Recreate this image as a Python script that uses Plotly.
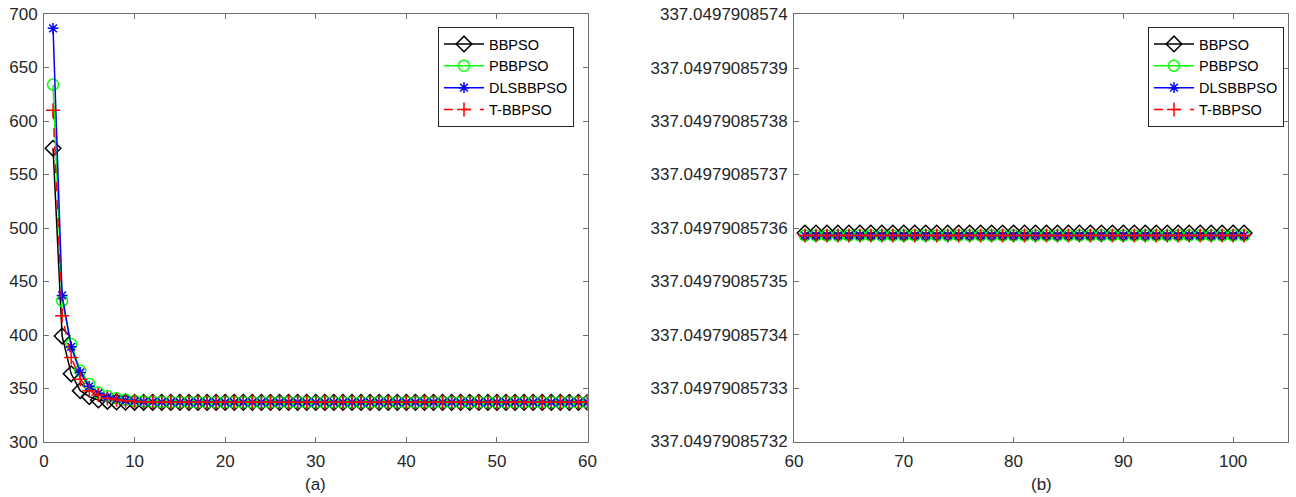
import plotly.graph_objects as go

# ---------------- data ----------------
iters_a = list(range(1, 61))
bbpso_a = [574.5, 399.0, 363.7, 348.0, 342.4, 339.3, 338.0, 337.5, 337.2, 337.1,
           337.07, 337.06] + [337.05] * 48
pbbpso_a = [634.0, 432.0, 391.5, 366.5, 354.3, 346.2, 343.0, 341.0, 339.5, 338.5,
            338.0, 337.6, 337.4, 337.3, 337.2, 337.15, 337.1, 337.08, 337.07, 337.06] + [337.05] * 40
dlsbbpso_a = [686.6, 437.0, 389.0, 365.0, 352.0, 345.6, 342.0, 340.0, 339.0, 338.0,
              337.6, 337.4, 337.3, 337.2, 337.15, 337.1, 337.08, 337.06] + [337.05] * 42
tbbpso_a = [610.0, 418.0, 379.0, 358.7, 348.0, 344.0, 341.0, 339.5, 338.5, 337.8,
            337.5, 337.3, 337.2, 337.1, 337.08, 337.06] + [337.05] * 44

iters_b = list(range(61, 102))
bbpso_b = [337.049790857359] * 41
pbbpso_b = [337.0497908573586] * 41
dlsbbpso_b = [337.0497908573586] * 41
tbbpso_b = [337.0497908573586] * 41

ytick_b_vals = [337.04979085732, 337.04979085733, 337.04979085734, 337.04979085735,
                337.04979085736, 337.04979085737, 337.04979085738, 337.04979085739,
                337.0497908574]
ytick_b_text = ["337.04979085732", "337.04979085733", "337.04979085734", "337.04979085735",
                "337.04979085736", "337.04979085737", "337.04979085738", "337.04979085739",
                "337.0497908574"]

names = ["BBPSO", "PBBPSO", "DLSBBPSO", "T-BBPSO"]
colors = ["#000000", "#00FF00", "#0000FF", "#FF0000"]
symbols = ["diamond-open", "circle-open", "asterisk-open", "cross-thin-open"]
msizes = [12, 11, 9, 10]
dashes = ["solid", "solid", "solid", "dash"]

# ---------------- figure ----------------
W, H = 1296, 497
fig = go.Figure()

series_a = [bbpso_a, pbbpso_a, dlsbbpso_a, tbbpso_a]
series_b = [bbpso_b, pbbpso_b, dlsbbpso_b, tbbpso_b]

for i in range(4):
    fig.add_trace(go.Scatter(
        x=iters_a, y=series_a[i], name=names[i], mode="lines+markers",
        line=dict(color=colors[i], width=1.5, dash=dashes[i]),
        marker=dict(symbol=symbols[i], size=msizes[i], color=colors[i],
                    line=dict(color=colors[i], width=1.5)),
        xaxis="x", yaxis="y", legend="legend"))
for i in range(4):
    fig.add_trace(go.Scatter(
        x=iters_b, y=series_b[i], name=names[i], mode="lines+markers",
        line=dict(color=colors[i], width=1.5, dash=dashes[i]),
        marker=dict(symbol=symbols[i], size=msizes[i], color=colors[i],
                    line=dict(color=colors[i], width=1.5)),
        xaxis="x2", yaxis="y2", legend="legend2"))

font = dict(family="Liberation Sans, Arial, sans-serif", size=17, color="#262626")
axcommon = dict(showline=True, linecolor="#707070", linewidth=1, mirror="ticks",
                ticks="inside", ticklen=5, tickcolor="#707070", showgrid=False,
                zeroline=False, automargin=False, tickfont=font)

xa = [44 / W, 587.5 / W]
xb = [794 / W, 1288 / W]
yd = [1 - 442 / H, 1 - 14 / H]

# tiny padding so the end ticks are not clipped by rounding
pad = 1e-13

legfont = dict(family="Liberation Sans, Arial, sans-serif", size=14.5, color="#000000")

fig.update_layout(
    width=W, height=H, margin=dict(l=0, r=0, t=0, b=0),
    paper_bgcolor="white", plot_bgcolor="white", font=font,
    xaxis=dict(domain=xa, range=[0, 60], tickvals=[0, 10, 20, 30, 40, 50, 60],
               ticklabelstandoff=4, **axcommon),
    yaxis=dict(domain=yd, range=[300, 700], tickvals=[300, 350, 400, 450, 500, 550, 600, 650, 700],
               anchor="x", ticklabelstandoff=2, **axcommon),
    xaxis2=dict(domain=xb, range=[60, 105], tickvals=[60, 70, 80, 90, 100], anchor="y2",
                ticklabelstandoff=4, **axcommon),
    yaxis2=dict(domain=yd, range=[ytick_b_vals[0] - pad, ytick_b_vals[-1] + pad],
                tickvals=ytick_b_vals, ticktext=ytick_b_text, anchor="x2",
                ticklabelstandoff=2, **axcommon),
    legend=dict(x=574 / W, y=1 - 27 / H, xanchor="right", yanchor="top",
                bordercolor="#262626", borderwidth=1, bgcolor="white",
                font=legfont, tracegroupgap=0, itemwidth=40),
    legend2=dict(x=1284 / W, y=1 - 27 / H, xanchor="right", yanchor="top",
                 bordercolor="#262626", borderwidth=1, bgcolor="white",
                 font=legfont, tracegroupgap=0, itemwidth=40),
    annotations=[
        dict(text="(a)", x=(xa[0] + xa[1]) / 2, y=1 - 484 / H, xref="paper", yref="paper",
             showarrow=False, font=font, xanchor="center", yanchor="middle"),
        dict(text="(b)", x=(xb[0] + xb[1]) / 2, y=1 - 484 / H, xref="paper", yref="paper",
             showarrow=False, font=font, xanchor="center", yanchor="middle"),
    ],
)

fig.write_html("out.html")
